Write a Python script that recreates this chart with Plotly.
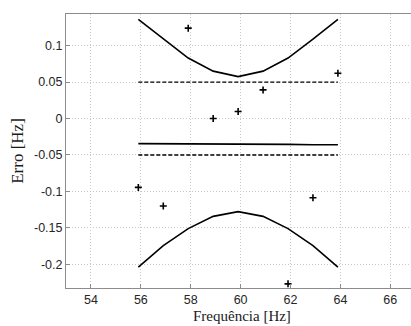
import plotly.graph_objects as go

freq = [55.9, 56.9, 57.9, 58.9, 59.9, 60.9, 61.9, 62.9, 63.9]
erro = [-0.0945, -0.12, 0.124, 0.0, 0.0096, 0.0393, -0.2268, -0.1086, 0.0622]
media = [-0.0345, -0.0345, -0.035, -0.035, -0.0355, -0.0355, -0.0355, -0.036, -0.036]
limite_sup = [0.136, 0.109, 0.083, 0.065, 0.0575, 0.065, 0.083, 0.109, 0.136]
limite_inf = [-0.204, -0.1744, -0.151, -0.1342, -0.1278, -0.1342, -0.151, -0.1744, -0.204]
tol_sup = [0.05] * 9
tol_inf = [-0.05] * 9

xticks = [54, 56, 58, 60, 62, 64, 66]
yticks = [-0.2, -0.15, -0.1, -0.05, 0, 0.05, 0.1]
yticklabels = ["-0.2", "-0.15", "-0.1", "-0.05", "0", "0.05", "0.1"]

fig = go.Figure()
line = dict(color="black", width=1.6)
fig.add_trace(go.Scatter(x=freq, y=limite_sup, mode="lines", line=line))
fig.add_trace(go.Scatter(x=freq, y=limite_inf, mode="lines", line=line))
fig.add_trace(go.Scatter(x=freq, y=media, mode="lines", line=line))
fig.add_trace(go.Scatter(x=freq, y=tol_sup, mode="lines", line=dict(color="black", width=1.4, dash="4px,2px")))
fig.add_trace(go.Scatter(x=freq, y=tol_inf, mode="lines", line=dict(color="black", width=1.4, dash="4px,2px")))
fig.add_trace(go.Scatter(x=freq, y=erro, mode="markers",
                         marker=dict(symbol="cross-thin", size=5, line=dict(color="black", width=1.6))))

axis_common = dict(
    showgrid=True, gridcolor="#c8c8c8", griddash="1px,2px", gridwidth=1,
    showline=True, linecolor="#8c8c8c", linewidth=1,
    ticks="inside", ticklen=4, tickcolor="#8c8c8c",
    zeroline=False,
    tickfont=dict(family="Arial, Liberation Sans", size=12.5, color="#262626"),
)

plot_h = 326 - 14 - 38
fig.update_layout(
    width=411, height=326,
    margin=dict(l=66, r=0, t=14, b=38),
    paper_bgcolor="white", plot_bgcolor="white",
    showlegend=False,
    xaxis=dict(range=[53, 66.83], tickvals=xticks, mirror=True, **axis_common),
    yaxis=dict(range=[-0.2325, 0.1434], tickvals=yticks, ticktext=yticklabels,
               title=dict(text="Erro [Hz]", standoff=6,
                          font=dict(family="Times New Roman, Liberation Serif", size=17, color="#1a1a1a")),
               **axis_common),
    annotations=[dict(text="Frequência [Hz]", xref="paper", yref="paper",
                      x=0.51, y=-38 / plot_h, xanchor="center", yanchor="bottom",
                      yshift=0, showarrow=False,
                      font=dict(family="Times New Roman, Liberation Serif", size=15, color="#1a1a1a"))],
)

fig.write_html("out.html")
